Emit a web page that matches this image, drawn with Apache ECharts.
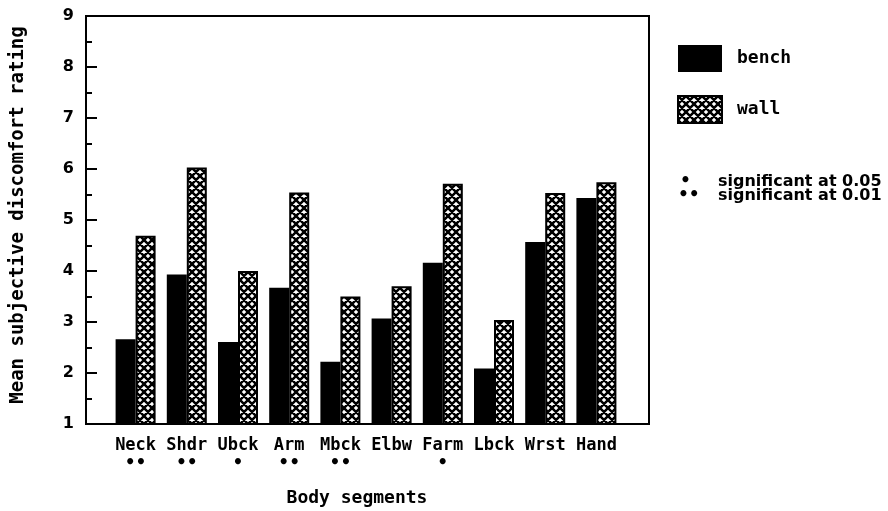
<!DOCTYPE html>
<html>
<head>
<meta charset="utf-8">
<script src="https://cdn.jsdelivr.net/npm/echarts@6/dist/echarts.min.js"></script>
<style>
html, body { margin: 0; padding: 0; background: #fff; }
#main { width: 888px; height: 511px; }
</style>
</head>
<body>
<div id="main"></div>
<script>
// data
var segments = ["Neck", "Shdr", "Ubck", "Arm", "Mbck", "Elbw", "Farm", "Lbck", "Wrst", "Hand"];
var signif = ["••", "••", "•", "••", "••", "", "•", "", "", ""];
var bench = [2.66, 3.93, 2.61, 3.67, 2.22, 3.07, 4.16, 2.09, 4.57, 5.43];
var wall = [4.69, 6.03, 4.00, 5.54, 3.50, 3.70, 5.71, 3.04, 5.53, 5.74];
var yTicks = [1, 2, 3, 4, 5, 6, 7, 8, 9];

var mono = "'DejaVu Sans Mono', monospace";
var sans = "'DejaVu Sans', sans-serif";

// cross hatch for the wall bars (diagonal lines, white diamond holes)
function hatch() {
	var c = document.createElement('canvas');
	c.width = 8;
	c.height = 8;
	var ctx = c.getContext('2d');
	ctx.fillStyle = '#fff';
	ctx.fillRect(0, 0, 8, 8);
	ctx.strokeStyle = '#000';
	ctx.lineWidth = 2.5;
	ctx.beginPath();
	for (var k = -1; k <= 1; k++) {
		ctx.moveTo(8 * k - 8, -8);
		ctx.lineTo(8 * k + 16, 16);
		ctx.moveTo(8 * k + 16, -8);
		ctx.lineTo(8 * k - 8, 16);
	}
	ctx.stroke();
	return c;
}

var labelMap = {};
for (var i = 0; i < segments.length; i++) {
	labelMap[segments[i]] = signif[i];
}

var myChart = echarts.init(document.getElementById('main'), null, {renderer: 'canvas'});
var option = {
	backgroundColor: '#fff',
	animation: false,
	grid: [
		{left: 86, right: 239, top: 16, bottom: 87, show: true, borderColor: '#000', borderWidth: 2, backgroundColor: 'transparent'},
		{left: 110, right: 266, top: 16, bottom: 87}
	],
	xAxis: [
		{type: 'value', gridIndex: 0, show: false},
		{
			type: 'category', gridIndex: 1, data: segments,
			axisLine: {show: false}, axisTick: {show: false},
			axisLabel: {
				margin: 12,
				interval: 0,
				formatter: function(v) {
					return '{n|' + v + '}\n{s|' + (labelMap[v] || ' ') + '}';
				},
				rich: {
					n: {fontFamily: mono, fontWeight: 'bold', fontSize: 17, color: '#000', lineHeight: 20},
					s: {fontFamily: sans, fontWeight: 'bold', fontSize: 17, color: '#000', lineHeight: 16}
				}
			}
		}
	],
	yAxis: [
		{
			type: 'value', gridIndex: 0, min: 1, max: 9, interval: 1,
			axisLine: {show: true, lineStyle: {color: '#000', width: 2}},
			axisTick: {show: true, inside: true, length: 11, lineStyle: {color: '#000', width: 2}},
			minorTick: {show: true, splitNumber: 2, length: 6, lineStyle: {color: '#000', width: 2}},
			splitLine: {show: false},
			axisLabel: {
				margin: 12, color: '#000', fontFamily: sans, fontWeight: 'bold', fontSize: 16,
				formatter: function(v) { return yTicks.indexOf(v) >= 0 ? String(v) : ''; }
			}
		},
		{type: 'value', gridIndex: 1, min: 1, max: 9, show: false, splitLine: {show: false}}
	],
	legend: {
		orient: 'vertical',
		left: 677,
		top: 45,
		padding: 0,
		itemWidth: 44,
		itemHeight: 27,
		itemGap: 23,
		icon: 'rect',
		data: ['bench', 'wall'],
		textStyle: {fontFamily: mono, fontWeight: 'bold', fontSize: 18, color: '#000', padding: [0, 0, 0, 10]}
	},
	series: [
		{
			name: 'bench', type: 'bar', xAxisIndex: 1, yAxisIndex: 1,
			data: bench, barWidth: 20, barGap: '0%',
			itemStyle: {color: '#000'}
		},
		{
			name: 'wall', type: 'bar', xAxisIndex: 1, yAxisIndex: 1,
			data: wall, barWidth: 20, barGap: '0%',
			itemStyle: {color: {image: hatch(), repeat: 'repeat'}, borderColor: '#000', borderWidth: 2}
		}
	],
	graphic: [
		{
			type: 'text', x: 18, y: 215, rotation: Math.PI / 2,
			style: {text: 'Mean subjective discomfort rating', fontFamily: mono, fontWeight: 'bold', fontSize: 19, fill: '#000', align: 'center', verticalAlign: 'middle'}
		},
		{
			type: 'text', x: 357, y: 498,
			style: {text: 'Body segments', fontFamily: mono, fontWeight: 'bold', fontSize: 18, fill: '#000', align: 'center', verticalAlign: 'middle'}
		},
		{
			type: 'text', x: 680, y: 182,
			style: {text: '•', fontFamily: sans, fontWeight: 'bold', fontSize: 17, fill: '#000', verticalAlign: 'middle'}
		},
		{
			type: 'text', x: 678, y: 196,
			style: {text: '••', fontFamily: sans, fontWeight: 'bold', fontSize: 17, fill: '#000', verticalAlign: 'middle'}
		},
		{
			type: 'text', x: 718, y: 182,
			style: {text: 'significant at 0.05', fontFamily: sans, fontWeight: 'bold', fontSize: 16, fill: '#000', verticalAlign: 'middle'}
		},
		{
			type: 'text', x: 718, y: 196,
			style: {text: 'significant at 0.01', fontFamily: sans, fontWeight: 'bold', fontSize: 16, fill: '#000', verticalAlign: 'middle'}
		}
	]
};
myChart.setOption(option);
</script>
</body>
</html>
